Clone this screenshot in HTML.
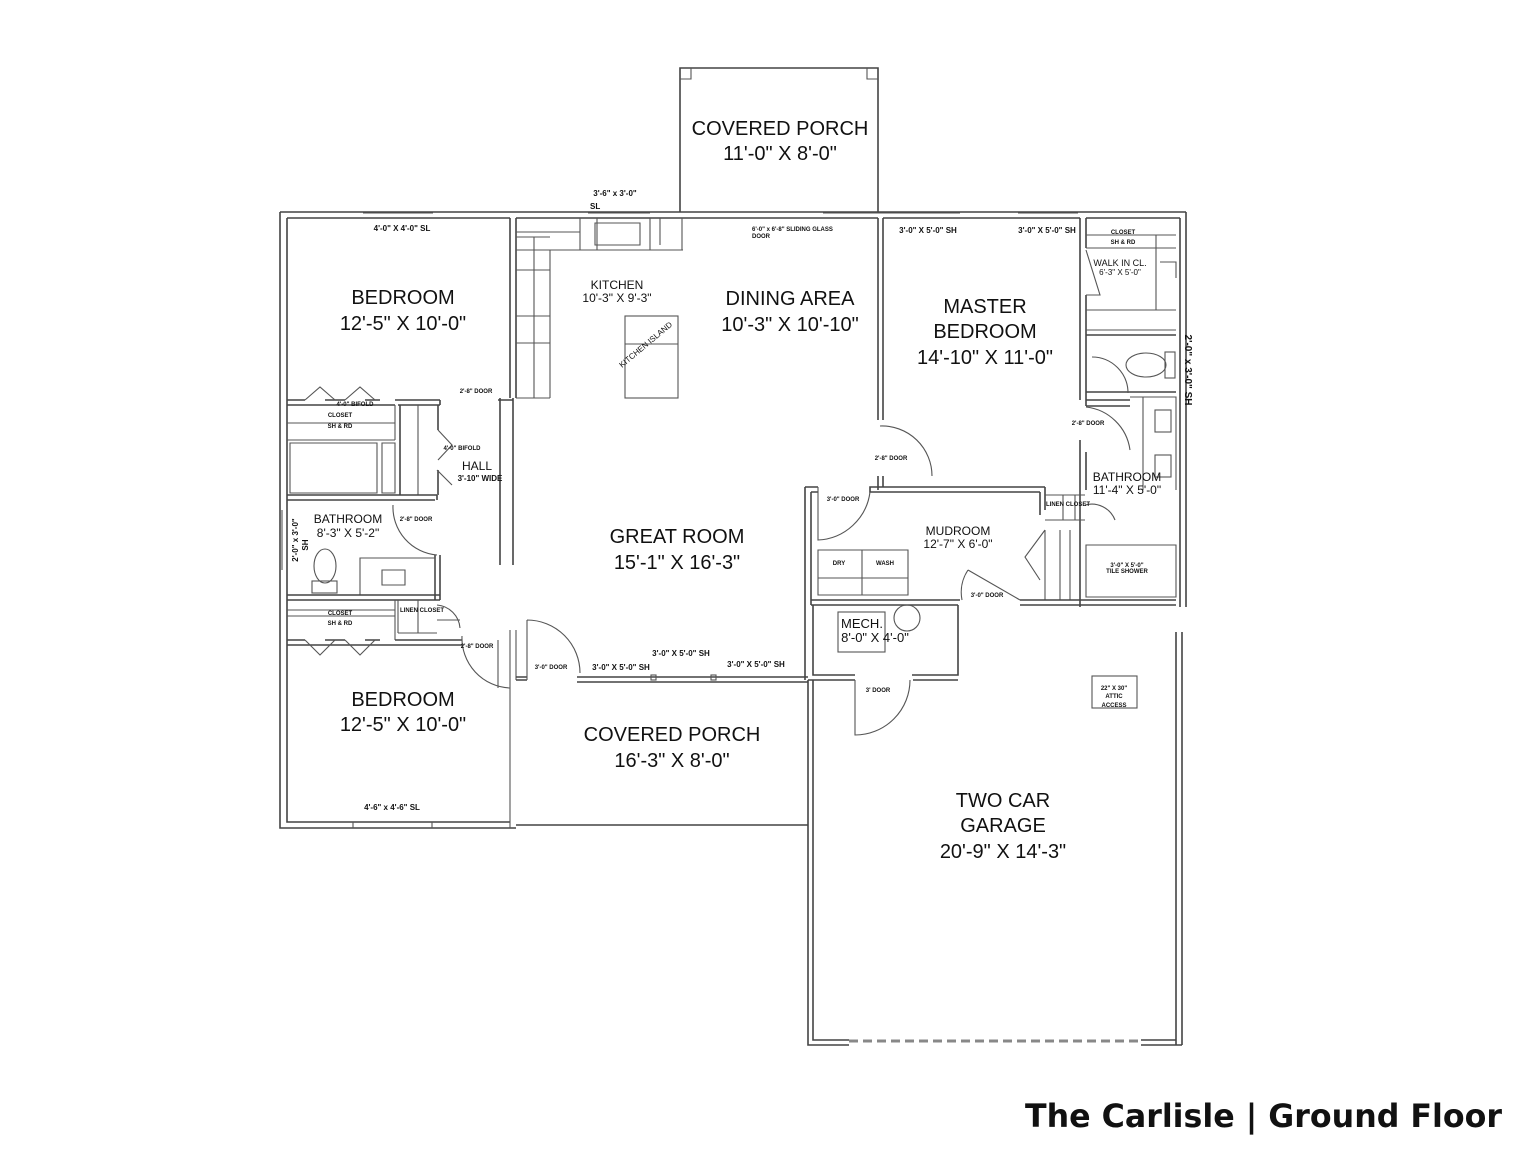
<!DOCTYPE html>
<html><head><meta charset="utf-8"><style>
html,body{margin:0;padding:0;background:#fff;width:1535px;height:1152px;overflow:hidden}
svg{display:block}
text{font-family:"Liberation Sans",Arial,sans-serif;fill:#111}
.w{fill:none;stroke:#444;stroke-width:1.6}
.t{fill:none;stroke:#555;stroke-width:1.1}
.s{font-size:6px;font-weight:bold}
.m{font-size:8px;font-weight:bold}
.l{font-size:20px}
.d{font-size:12px;font-weight:bold}
</style></head><body>
<svg width="1535" height="1152" viewBox="0 0 1535 1152" xmlns="http://www.w3.org/2000/svg">
<path class="w" d="M680 212 V68 H878 V212"/>
<path class="t" d="M680 79 H691 V68 M878 79 H867 V68"/>
<path class="w" d="M280 212 H1186 M287 218 H510 M516 218 H878 M883 218 H1080 M1086 218 H1180"/>
<path class="t" d="M363 213 H433 M588 213 H650 M823 213 H960 M1018 213 H1078 M895 213 H950"/>
<path class="w" d="M280 212 V828 H516 M287 218 V822 H510"/>
<path class="t" d="M282 510 V570 M353 822 V828 M432 822 V828"/>
<path class="w" d="M510 218 V398 M516 218 V398 M500 398 V565 M513 398 V565"/>
<path class="w" d="M287 400 H305 M325 400 H345 M365 400 H380 M395 400 H440 M287 405 H395 M398 405 H440 M440 400 V405 M498 400 H513"/>
<path class="t" d="M305 400 L320 387 L335 400 M345 400 L360 387 L375 400"/>
<path class="t" d="M287 440 H395 M287 423 H395 M395 405 V440"/>
<path class="w" d="M400 405 V495 M438 405 V430 M438 470 V495"/>
<path class="t" d="M418 405 V495 M438 430 L452 445 L438 460 M437 470 L452 485"/>
<path class="t" d="M290 443 H377 V493 H290 Z M382 443 H395 V493 H382 Z"/>
<path class="w" d="M287 495 H437 M287 500 H435 M437 495 V500 M435 555 V600 M440 555 V600"/>
<path class="t" d="M393 505 A48 48 0 0 0 437 555"/>
<path class="t" d="M360 558 H435 V595 H360 Z M382 570 H405 V585 H382 Z"/>
<ellipse class="t" cx="325" cy="566" rx="11" ry="17"/>
<rect class="t" x="312" y="581" width="25" height="12"/>
<path class="w" d="M287 595 H440 M287 600 H440"/>
<path class="t" d="M287 610 H395 M287 616 H395 M395 600 V640 M398 600 V633 M418 600 V633 M398 633 H437 M437 620 H460"/>
<path class="t" d="M437 605 A25 25 0 0 1 460 628"/>
<path class="w" d="M287 640 H305 M325 640 H345 M365 640 H380 M395 640 H462 M287 645 H462"/>
<path class="t" d="M305 640 L320 655 L335 640 M345 640 L360 655 L375 640"/>
<path class="t" d="M462 636 A50 50 0 0 0 510 688 M498 640 V688 M510 630 V828 M516 630 V680"/>
<path class="t" d="M516 237 H550 M516 250 H683 M550 250 V398 M534 237 V398 M516 270 H550 M516 316 H550 M516 343 H550 M516 398 H550 M516 232 H580 M580 218 V250 M597 218 V250 M650 218 V250 M660 218 V245 M682 218 V250 M595 223 H640 V245 H595 Z"/>
<rect class="t" x="625" y="316" width="53" height="82"/>
<path class="t" d="M625 344 H678"/>
<path class="w" d="M516 680 H527 M516 677 H527 M577 677 H808 M577 682 H808"/>
<path class="t" d="M527 620 V680 M527 620 A53 53 0 0 1 580 673"/>
<rect x="651" y="675" width="5" height="5" class="t"/><rect x="711" y="675" width="5" height="5" class="t"/>
<path class="w" d="M516 825 H808"/>
<path class="w" d="M878 218 V420 M883 218 V420 M878 476 V490 M883 476 V487"/>
<path class="t" d="M880 426 A50 50 0 0 1 932 476"/>
<path class="w" d="M1080 218 V400 M1086 218 V248 M1086 295 V406 M1080 440 V607 M1086 452 V490"/>
<path class="t" d="M1086 235 H1176 M1086 248 H1176 M1156 235 V310 M1086 310 H1176 M1086 330 H1176 M1160 262 H1176 V278 M1086 250 L1100 295 H1086"/>
<path class="w" d="M1086 335 H1176 M1086 392 H1176 M1086 400 H1130 M1086 406 H1130"/>
<path class="t" d="M1092 357 A36 36 0 0 1 1128 393 M1086 407 A50 50 0 0 1 1130 450 M1130 397 H1176 V490 M1143 397 V490"/>
<ellipse class="t" cx="1146" cy="365" rx="20" ry="12"/><rect class="t" x="1165" y="352" width="10" height="26"/>
<rect class="t" x="1155" y="410" width="16" height="22"/><rect class="t" x="1155" y="455" width="16" height="22"/>
<path class="w" d="M1180 218 V607 M1186 212 V607 M1176 632 V1045 M1182 632 V1045"/>
<path class="w" d="M805 487 V680 M811 492 V605 M805 487 H818 M811 492 H818 M870 487 V492 H1040 M870 492 V487 H1045 M1040 492 V515 M1045 487 V510"/>
<path class="t" d="M818 487 V540 A55 55 0 0 0 870 492"/>
<path class="t" d="M1045 495 H1085 M1045 520 H1085 M1063 495 V520 M1075 495 V520 M1085 505 A25 25 0 0 1 1115 520 M1045 530 V600 M1060 530 V600 M1070 530 V600 M1045 530 L1025 557 L1040 580 M1086 545 H1176 V597 H1086 Z"/>
<path class="t" d="M818 550 H862 V595 H818 Z M862 550 H908 V595 H862 Z M818 578 H908"/>
<path class="w" d="M811 600 H960 M811 605 H958 M1020 600 H1176 M1020 605 H1176"/>
<path class="t" d="M968 570 A40 40 0 0 0 962 600 M968 570 L1020 600"/>
<path class="w" d="M813 605 V675 H855 M958 605 V675 H912 M808 680 H855 M913 680 H958"/>
<rect class="t" x="838" y="612" width="47" height="40"/>
<circle class="t" cx="907" cy="618" r="13"/>
<path class="t" d="M855 680 V735 A55 55 0 0 0 910 680"/>
<path class="w" d="M808 680 V1045 H849 M813 680 V1040 H849 M1141 1040 H1176 M1141 1045 H1182"/>
<path d="M849 1041 H1141" stroke="#888" stroke-width="3" stroke-dasharray="9,5"/>
<rect class="t" x="1092" y="676" width="45" height="32"/>
<g text-anchor="middle">
<text class="l" x="780" y="135">COVERED PORCH</text><text class="l" x="780" y="160">11'-0" X 8'-0"</text>
<text class="l" x="403" y="304">BEDROOM</text><text class="l" x="403" y="330">12'-5" X 10'-0"</text>
<text class="l" x="790" y="305">DINING AREA</text><text class="l" x="790" y="331">10'-3" X 10'-10"</text>
<text class="l" x="985" y="313">MASTER</text><text class="l" x="985" y="338">BEDROOM</text><text class="l" x="985" y="364">14'-10" X 11'-0"</text>
<text class="l" x="677" y="543">GREAT ROOM</text><text class="l" x="677" y="569">15'-1" X 16'-3"</text>
<text class="l" x="403" y="706">BEDROOM</text><text class="l" x="403" y="731">12'-5" X 10'-0"</text>
<text class="l" x="672" y="741">COVERED PORCH</text><text class="l" x="672" y="767">16'-3" X 8'-0"</text>
<text class="l" x="1003" y="807">TWO CAR</text><text class="l" x="1003" y="832">GARAGE</text><text class="l" x="1003" y="858">20'-9" X 14'-3"</text>
<text x="617" y="289" style="font-size:12px">KITCHEN</text><text x="617" y="302" style="font-size:12px">10'-3" X 9'-3"</text>
<text x="958" y="535" style="font-size:12px">MUDROOM</text><text x="958" y="548" style="font-size:12px">12'-7" X 6'-0"</text>
<text x="862" y="628" style="font-size:13px">MECH.</text><text x="875" y="642" style="font-size:13px">8'-0" X 4'-0"</text>
<text x="1127" y="481" style="font-size:12px">BATHROOM</text><text x="1127" y="494" style="font-size:12px">11'-4" X 5'-0"</text>
<text x="348" y="523" style="font-size:12px">BATHROOM</text><text x="348" y="537" style="font-size:12px">8'-3" X 5'-2"</text>
<text x="477" y="470" style="font-size:12px">HALL</text><text class="m" x="480" y="481">3'-10" WIDE</text>
<text x="1120" y="266" style="font-size:9px">WALK IN CL.</text><text x="1120" y="275" style="font-size:8px">6'-3" X 5'-0"</text>
<text class="s" x="1123" y="234">CLOSET</text><text class="s" x="1123" y="244">SH &amp; RD</text>
<text class="s" x="340" y="417">CLOSET</text><text class="s" x="340" y="428">SH &amp; RD</text>
<text class="s" x="340" y="615">CLOSET</text><text class="s" x="340" y="625">SH &amp; RD</text>
<text class="s" x="1114" y="690">22" X 30"</text><text class="s" x="1114" y="698">ATTIC</text><text class="s" x="1114" y="707">ACCESS</text>
<text class="m" x="402" y="231">4'-0" X 4'-0" SL</text>
<text class="m" x="392" y="810">4'-6" x 4'-6" SL</text>
<text class="m" x="928" y="233">3'-0" X 5'-0" SH</text>
<text class="m" x="1047" y="233">3'-0" X 5'-0" SH</text>
<text class="m" x="621" y="670">3'-0" X 5'-0" SH</text>
<text class="m" x="681" y="656">3'-0" X 5'-0" SH</text>
<text class="m" x="756" y="667">3'-0" X 5'-0" SH</text>
<text class="m" x="615" y="196">3'-6" x 3'-0"</text>
<text class="s" x="476" y="393">2'-8" DOOR</text><text class="s" x="891" y="460">2'-8" DOOR</text>
<text class="s" x="416" y="521">2'-8" DOOR</text><text class="s" x="477" y="648">2'-8" DOOR</text>
<text class="s" x="551" y="669">3'-0" DOOR</text><text class="s" x="843" y="501">3'-0" DOOR</text>
<text class="s" x="987" y="597">3'-0" DOOR</text><text class="s" x="878" y="692">3' DOOR</text>
<text class="s" x="1088" y="425">2'-8" DOOR</text>
<text class="s" x="839" y="565">DRY</text><text class="s" x="885" y="565">WASH</text>
<text class="s" x="1127" y="567">3'-0" X 5'-0"</text><text class="s" x="1127" y="573">TILE SHOWER</text>
<text class="s" x="1068" y="506">LINEN CLOSET</text><text class="s" x="422" y="612">LINEN CLOSET</text>
<text class="s" x="355" y="406">4'-0" BIFOLD</text><text class="s" x="462" y="450">4'-0" BIFOLD</text>
</g>
<text class="m" x="590" y="209">SL</text>
<text class="s" x="752" y="231">6'-0" x 6'-8" SLIDING GLASS</text><text class="s" x="752" y="238">DOOR</text>
<text class="m" transform="translate(298,540) rotate(-90)" text-anchor="middle">2'-0" x 3'-0"</text>
<text class="m" transform="translate(308,545) rotate(-90)" text-anchor="middle">SH</text>
<text transform="translate(1185,370) rotate(90)" text-anchor="middle" style="font-size:10px;font-weight:bold">2'-0" x 3'-0" SH</text>
<text transform="translate(622,368) rotate(-40)" style="font-size:8px">KITCHEN ISLAND</text>
<text x="1025" y="1127" style="font-family:'DejaVu Sans','Liberation Sans',sans-serif;font-weight:bold;font-size:32px" textLength="477" lengthAdjust="spacingAndGlyphs">The Carlisle | Ground Floor</text>
</svg>
</body></html>
